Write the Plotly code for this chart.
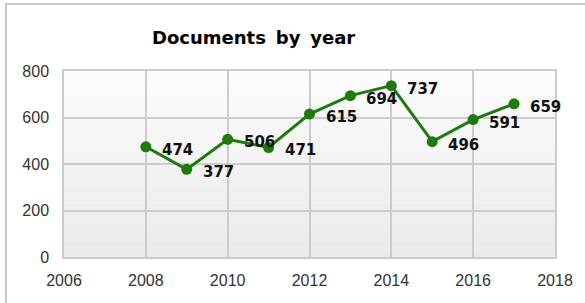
import plotly.graph_objects as go

years = [2008, 2009, 2010, 2011, 2012, 2013, 2014, 2015, 2016, 2017]
documents = [474, 377, 506, 471, 615, 694, 737, 496, 591, 659]
x_ticks = [2006, 2008, 2010, 2012, 2014, 2016, 2018]
y_ticks = [0, 200, 400, 600, 800]
title_text = "Documents by year"

green = "#1f7a0c"
grid = "#cccccc"

fig = go.Figure()
fig.add_trace(go.Scatter(
    x=years, y=documents, mode="lines+markers",
    line=dict(color=green, width=3),
    marker=dict(color=green, size=11),
    hoverinfo="skip", showlegend=False,
))

annotations = [
    dict(x=x, y=y, xref="x", yref="y", text=str(y), showarrow=False,
         xanchor="left", yanchor="middle", xshift=14, yshift=-3,
         font=dict(family="DejaVu Sans", size=15, color="#111111", weight="bold"))
    for x, y in zip(years, documents)
]
annotations.append(dict(
    x=(253 - 64) / 491, y=(257 - 38) / 186, xref="paper", yref="paper",
    xanchor="center", yanchor="middle",
    text="<b>" + title_text.replace(" ", "\u00a0\u2009") + "</b>",
    showarrow=False, font=dict(family="DejaVu Sans", size=18, color="#000000"),
))

# gradient background of plot area
shapes = []
n = 24
for i in range(n):
    t = i / n
    c = int(252 - 18 * t)
    shapes.append(dict(type="rect", xref="x domain", yref="y domain",
                       x0=0, x1=1, y0=1 - (i + 1) / n, y1=1 - i / n,
                       fillcolor=f"rgb({c},{c},{c})", line=dict(width=0),
                       layer="below"))
# outer chart border (only top and left visible, rest cropped)
shapes.append(dict(type="rect", xref="paper", yref="paper",
                   x0=-58 / 491, x1=540 / 491, y0=-70 / 186, y1=(186 + 67) / 186,
                   line=dict(color="#c8c8c8", width=2), fillcolor="rgba(0,0,0,0)"))

tickfont = dict(family="Liberation Sans", size=16, color="#333333")
fig.update_layout(
    width=585, height=303,
    margin=dict(l=64, r=30, t=71, b=46),
    paper_bgcolor="white", plot_bgcolor="rgba(0,0,0,0)",
    annotations=annotations, shapes=shapes,
    xaxis=dict(range=[2006, 2018], tickvals=x_ticks, ticktext=[str(v) for v in x_ticks],
               showgrid=True, gridcolor=grid, gridwidth=1.5, zeroline=False,
               showline=True, linecolor=grid, linewidth=1.5, mirror=True,
               ticks="", ticklabelstandoff=8, tickfont=tickfont),
    yaxis=dict(range=[0, 800], tickvals=y_ticks,
               showgrid=True, gridcolor=grid, gridwidth=1.5, zeroline=False,
               showline=True, linecolor=grid, linewidth=1.5, mirror=True,
               ticks="", ticklabelstandoff=10, tickfont=tickfont),
)

fig.write_html("out.html", config={"displayModeBar": False},
               post_script="document.body.style.margin='0';")
